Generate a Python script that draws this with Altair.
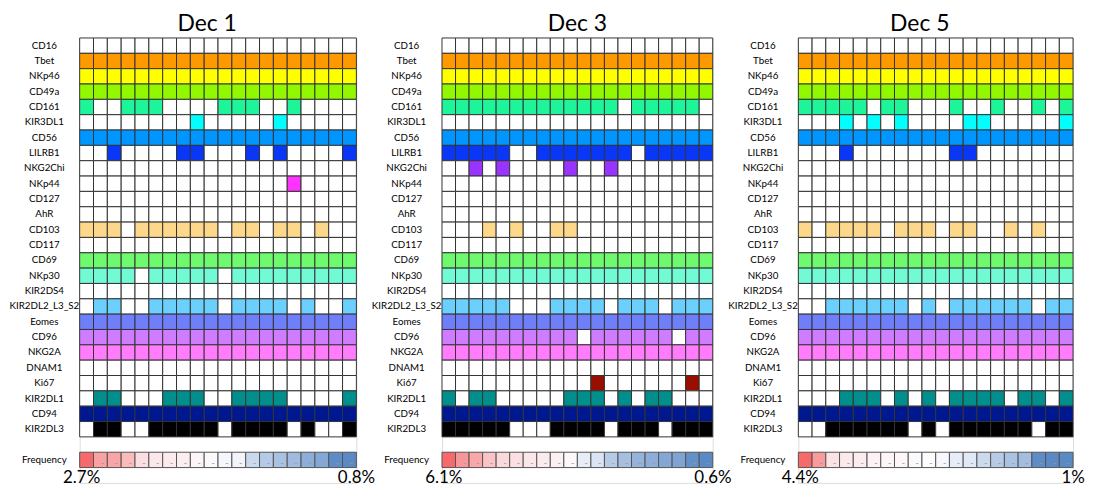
import altair as alt
import pandas as pd
import numpy as np

MARKERS = ["CD16", "Tbet", "NKp46", "CD49a", "CD161", "KIR3DL1", "CD56", "LILRB1",
           "NKG2Chi", "NKp44", "CD127", "AhR", "CD103", "CD117", "CD69", "NKp30",
           "KIR2DS4", "KIR2DL2_L3_S2", "Eomes", "CD96", "NKG2A", "DNAM1", "Ki67",
           "KIR2DL1", "CD94", "KIR2DL3"]

MARKER_COLORS = ["#FFFFFF", "#FF9900", "#FFFF00", "#92F800", "#1EF59A", "#00FFFF", "#0096FF", "#0A37F5",
                 "#9933FF", "#FF33FF", "#FFFFFF", "#FFFFFF", "#FDD88A", "#FFFFFF", "#6EF96E", "#72FAD4",
                 "#FFFFFF", "#6CD0FF", "#6F7FFA", "#D07CFF", "#FF7DFD", "#FFFFFF", "#9A0E00",
                 "#008F8C", "#00188F", "#000000"]

# 1 = marker expressed in that cluster (20 clusters per day)
DEC1 = ["00000000000000000000", "11111111111111111111", "11111111111111111111", "11111111111111111111",
        "10011100001110010000", "00000000100000100000", "11111111111111111111", "00100001100010100001",
        "00000000000000000000", "00000000000000010000", "00000000000000000000", "00000000000000000000",
        "11101111110110110100", "00000000000000000000", "11111111111111111111", "11110111110111111111",
        "00000000000000000000", "01100111110111101001", "11111111111111111111", "11111111111111111111",
        "11111111111111111111", "00000000000000000000", "00000000000000000000",
        "01100011100111100001", "11111111111111111111", "01100111110111101001"]

DEC3 = ["00000000000000000000", "11111111111111111111", "11111111111111111111", "11111111111111111111",
        "11111111111110111110", "00000000000000000000", "11111111111111111111", "11111001111111011111",
        "00101000010010000000", "00000000000000000000", "00000000000000000000", "00000000000000000000",
        "00010100110000000000", "00000000000000000000", "11111111111111111111", "11111111111111111111",
        "00000000000000000000", "11111000111101110111", "11111111111111111111", "11111111110111111011",
        "11111111111111111111", "00000000000000000000", "00000000000100000010",
        "10110000011101011000", "11111111111111111111", "11111000111101110111"]

DEC5 = ["00000000000000000000", "11111111111111111111", "11111111111111111111", "11111111111111111111",
        "11111011000100100101", "00010101000011000001", "11111111111111111111", "00010000000110000000",
        "00000000000000000000", "00000000000000000000", "00000000000000000000", "00000000000000000000",
        "10111101110110010100", "00000000000000000000", "11111111111111111111", "11111111111111111111",
        "00000000000000000000", "00111111010111111011", "11111111111111111111", "11111111111111111111",
        "11111111111111111111", "00000000000000000000", "00000000000000000000",
        "00011101010111101101", "11111111111111111111", "00111111010111111011"]

# cluster frequency (% of cells), estimated from the colour strip
FREQ1 = [2.7, 2.18, 2.15, 1.94, 1.61, 1.52, 1.50, 1.47, 1.40, 1.36,
         1.31, 1.30, 1.17, 1.10, 1.06, 1.03, 0.97, 0.94, 0.81, 0.80]
FREQ3 = [6.1, 4.7, 4.17, 3.31, 2.68, 2.46, 2.23, 2.10, 1.92, 1.69,
         1.43, 1.36, 1.14, 1.05, 0.95, 0.90, 0.85, 0.82, 0.65, 0.60]
FREQ5 = [4.4, 3.44, 2.05, 1.91, 1.85, 1.76, 1.70, 1.65, 1.59, 1.56,
         1.52, 1.47, 1.45, 1.38, 1.31, 1.27, 1.24, 1.01, 1.0, 1.0]

TITLES = ["Dec 1", "Dec 3", "Dec 5"]

FONT = "Lato"
ROW_DOMAIN = MARKERS + [" ", "Frequency", "  "]
ROW_H = 15.42


def panel(title, rows, freq, width, title_dx):
    ncol = len(rows[0])
    cells = []
    for m, s in zip(MARKERS, rows):
        for i, ch in enumerate(s):
            cells.append({"row": m, "col": i + 1, "key": m if ch == "1" else "off"})
    cdf = pd.DataFrame(cells)
    fdf = pd.DataFrame({"row": "Frequency", "col": list(range(1, ncol + 1)), "freq": freq})
    hi = f"{max(freq):g}%"
    lo = f"{min(freq):g}%"
    ldf = pd.DataFrame({"row": ["  "], "col": [1], "label": [hi]})
    rdf = pd.DataFrame({"row": ["  "], "col": [ncol], "label": [lo]})

    x = alt.X("col:O", scale=alt.Scale(paddingInner=0, paddingOuter=0), axis=None)
    y = alt.Y("row:N", sort=ROW_DOMAIN,
              scale=alt.Scale(domain=ROW_DOMAIN, paddingInner=0, paddingOuter=0),
              axis=alt.Axis(title=None, ticks=False, domain=False, labelAlign="center",
                            labelBaseline="middle", labelPadding=36, labelFontSize=9.8,
                            labelFont=FONT, labelColor="black", labelOverlap=False, grid=False))

    cells_layer = alt.Chart(cdf).mark_rect(stroke="#333333", strokeWidth=1).encode(
        x=x, y=y,
        color=alt.Color("key:N", scale=alt.Scale(domain=MARKERS + ["off"],
                                                 range=MARKER_COLORS + ["#FFFFFF"]),
                        legend=None))

    med = float(np.median(freq))
    freq_layer = alt.Chart(fdf).mark_rect(stroke="#555555", strokeWidth=1).encode(
        x=x, y=y,
        color=alt.Color("freq:Q", scale=alt.Scale(domain=[min(freq), med, max(freq)],
                                                  range=["#5A8AC6", "#FCFCFF", "#F8696B"],
                                                  interpolate="rgb"),
                        legend=None))
    dash_layer = alt.Chart(fdf).mark_text(text="-", color="#999999", fontSize=9, dx=2, dy=3,
                                          font=FONT).encode(x=x, y=y)
    left_txt = alt.Chart(ldf).mark_text(font=FONT, fontSize=17, color="black", dx=-5, dy=3,
                                        align="center", baseline="middle").encode(
        x=x, y=y, text="label:N")
    right_txt = alt.Chart(rdf).mark_text(font=FONT, fontSize=17, color="black", dx=7, dy=3,
                                         align="center", baseline="middle").encode(
        x=x, y=y, text="label:N")

    return alt.layer(cells_layer, freq_layer, dash_layer, left_txt, right_txt).resolve_scale(
        color="independent"
    ).properties(
        width=width, height=round(ROW_H * len(ROW_DOMAIN)),
        title=alt.TitleParams(text=title, fontSize=23, font=FONT, fontWeight="normal",
                              anchor="middle", frame="group", dx=title_dx, offset=2,
                              color="black"))


chart = alt.hconcat(
    panel(TITLES[0], DEC1, FREQ1, 278, -11),
    panel(TITLES[1], DEC3, FREQ3, 272, 0),
    panel(TITLES[2], DEC5, FREQ5, 276, -16),
    spacing=86,
).resolve_scale(color="independent").properties(
    padding={"left": 0, "top": 3, "right": 0, "bottom": 0},
    bounds="flush",
).configure_view(stroke=None).configure(background="white")

chart.save("out.html", embed_options={"renderer": "svg", "actions": False})
